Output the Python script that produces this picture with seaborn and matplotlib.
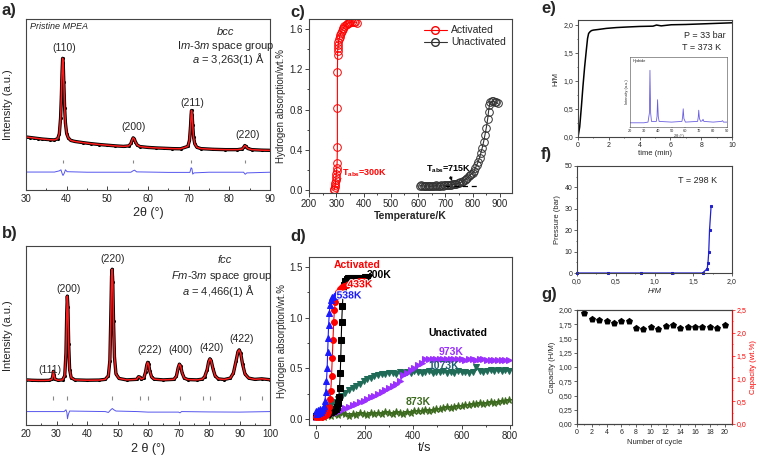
import matplotlib
matplotlib.use("Agg")
import numpy as np
import pandas as pd
import matplotlib.pyplot as plt
import seaborn as sns
from matplotlib.ticker import FuncFormatter, MultipleLocator
from matplotlib.lines import Line2D
import matplotlib.patheffects as pe

# ---------------- data ----------------
# (a) bcc XRD pattern (2theta, intensity in axis units)
a_tt = [30.0, 31.0, 32.0, 33.0, 34.0, 35.0, 36.0, 37.0, 37.8, 38.2, 38.5, 38.7, 38.85, 39.0, 39.15, 39.3,
        39.5, 39.7, 40.0, 40.4, 41.0, 42.0, 44.0, 46.0, 48.0, 50.0, 52.0, 54.0, 55.3, 55.8, 56.1, 56.35,
        56.6, 56.9, 57.3, 58.0, 60.0, 62.0, 64.0, 66.0, 68.0, 69.8, 70.2, 70.45, 70.6, 70.7, 70.85, 71.0,
        71.2, 71.5, 72.0, 73.0, 76.0, 79.0, 82.0, 83.2, 83.6, 83.8, 84.1, 84.5, 85.5, 88.0, 90.0]
a_obs = [0.310, 0.307, 0.304, 0.301, 0.298, 0.296, 0.294, 0.293, 0.300, 0.33, 0.42, 0.55, 0.68, 0.77, 0.74, 0.63,
         0.48, 0.39, 0.33, 0.305, 0.290, 0.284, 0.277, 0.271, 0.266, 0.262, 0.258, 0.255, 0.258, 0.272, 0.292, 0.305,
         0.300, 0.282, 0.264, 0.254, 0.249, 0.246, 0.244, 0.242, 0.241, 0.255, 0.29, 0.37, 0.44, 0.465, 0.44, 0.38,
         0.31, 0.27, 0.25, 0.242, 0.238, 0.236, 0.236, 0.240, 0.252, 0.260, 0.255, 0.243, 0.236, 0.233, 0.232]
a_diff_tt = [30, 37, 38.2, 38.6, 38.9, 39.1, 39.4, 39.7, 40.1, 45, 55.8, 56.3, 56.7, 57.2, 65, 70.3, 70.6, 70.8,
             71.0, 71.3, 75, 83.5, 83.9, 84.3, 90]
a_diff = [0.105, 0.105, 0.112, 0.118, 0.095, 0.085, 0.098, 0.118, 0.107, 0.104, 0.104, 0.112, 0.116, 0.106, 0.103,
          0.103, 0.13, 0.125, 0.093, 0.100, 0.104, 0.104, 0.092, 0.100, 0.104]
a_bragg = [39.0, 56.35, 70.66, 83.78]
a_hkl = ["(110)", "(200)", "(211)", "(220)"]
a_hkl_x = [39.3, 56.5, 70.9, 84.5]
a_hkl_y = [0.83, 0.37, 0.51, 0.32]

# (b) fcc XRD pattern
b_tt = [20.0, 22.0, 24.0, 26.0, 27.5, 28.5, 28.8, 29.0, 29.2, 29.5, 30.5, 32.0, 32.7, 33.1, 33.35, 33.55, 33.75,
        34.0, 34.3, 34.8, 36.0, 40.0, 44.0, 46.0, 47.0, 47.5, 47.8, 48.05, 48.25, 48.45, 48.7, 49.0, 49.5, 50.5,
        53.0, 56.3, 56.9, 57.3, 57.8, 58.6, 59.2, 59.6, 59.9, 60.2, 60.6, 61.2, 62.0, 65.0, 68.5, 69.3, 69.9, 70.3,
        70.7, 71.2, 71.9, 73.0, 76.0, 77.8, 78.6, 79.4, 79.9, 80.3, 80.7, 81.3, 82.0, 83.0, 85.0, 87.0, 88.0, 88.9,
        89.5, 89.9, 90.4, 91.0, 91.8, 93.0, 95.0, 97.3, 100.0]
b_obs = [0.252, 0.250, 0.249, 0.249, 0.250, 0.255, 0.275, 0.300, 0.278, 0.256, 0.250, 0.252, 0.275, 0.40, 0.62, 0.72, 0.66,
         0.45, 0.31, 0.265, 0.252, 0.250, 0.251, 0.255, 0.275, 0.36, 0.60, 0.83, 0.87, 0.80, 0.58, 0.38, 0.285, 0.260,
         0.252, 0.255, 0.270, 0.268, 0.256, 0.262, 0.295, 0.335, 0.350, 0.340, 0.300, 0.268, 0.256, 0.252, 0.255, 0.272,
         0.320, 0.340, 0.330, 0.290, 0.262, 0.254, 0.252, 0.256, 0.270, 0.310, 0.355, 0.370, 0.360, 0.315, 0.275, 0.258,
         0.254, 0.262, 0.290, 0.360, 0.410, 0.420, 0.400, 0.340, 0.285, 0.262, 0.255, 0.258, 0.253]
b_diff_tt = [20, 32.5, 33.1, 33.4, 33.6, 33.9, 34.3, 46, 47, 47.8, 48.3, 48.8, 49.5, 56.5, 60, 70, 70.5, 71, 80, 90, 100]
b_diff = [0.075, 0.075, 0.085, 0.07, 0.035, 0.06, 0.078, 0.075, 0.07, 0.085, 0.092, 0.085, 0.078, 0.075, 0.072,
          0.072, 0.068, 0.075, 0.073, 0.072, 0.075]
b_bragg = [29.0, 33.6, 48.2, 57.3, 60.0, 70.5, 78.0, 80.4, 90.0, 97.3]
b_hkl = ["(111)", "(200)", "(220)", "(222)", "(400)", "(420)", "(422)"]
b_hkl_x = [27.8, 33.8, 48.4, 60.6, 70.8, 80.8, 90.6]
b_hkl_y = [0.31, 0.76, 0.93, 0.42, 0.42, 0.43, 0.48]

# (c) temperature-programmed absorption
c_act_T = [291, 293, 295, 296, 297, 298, 299, 300, 301, 302, 303, 304, 304, 304, 305, 305, 306, 307, 308, 310,
           312, 314, 317, 320, 323, 326, 330, 334, 338, 342, 347, 352, 358, 364, 370, 376]
c_act_w = [0.0, 0.01, 0.03, 0.05, 0.07, 0.10, 0.13, 0.16, 0.19, 0.22, 0.27, 0.43, 0.82, 1.17, 1.34, 1.38, 1.41,
           1.44, 1.47, 1.50, 1.52, 1.54, 1.56, 1.58, 1.60, 1.61, 1.63, 1.64, 1.65, 1.66, 1.66, 1.67, 1.67, 1.67,
           1.67, 1.66]
c_un_T = [605, 610, 615, 620, 625, 630, 635, 640, 645, 650, 655, 660, 665, 670, 675, 680, 685, 690, 695, 700,
          705, 710, 715, 720, 725, 730, 735, 740, 745, 750, 755, 760, 765, 770, 775, 780, 785, 790, 795, 800,
          805, 810, 815, 820, 825, 830, 835, 840, 845, 850, 855, 858, 861, 865, 870, 875, 880, 886, 892]
c_un_w = [0.04, 0.045, 0.04, 0.04, 0.035, 0.04, 0.04, 0.04, 0.035, 0.04, 0.04, 0.04, 0.045, 0.04, 0.04, 0.04,
          0.045, 0.04, 0.045, 0.045, 0.045, 0.05, 0.05, 0.05, 0.055, 0.055, 0.06, 0.06, 0.065, 0.07, 0.075, 0.08,
          0.09, 0.10, 0.11, 0.12, 0.135, 0.15, 0.16, 0.17, 0.19, 0.22, 0.25, 0.28, 0.32, 0.37, 0.42, 0.48, 0.55,
          0.62, 0.71, 0.78, 0.84, 0.87, 0.88, 0.88, 0.875, 0.87, 0.86]

# (d) isothermal kinetics
d_300_t = [0, 5, 10, 15, 20, 25, 30, 35, 40, 45, 50, 55, 60, 65, 70, 75, 80, 85, 90, 93, 96, 99, 101, 103, 105,
           108, 111, 115, 120, 126, 133, 140, 150, 160, 170, 180, 190, 200, 210]
d_300_w = [0.03, 0.04, 0.03, 0.04, 0.05, 0.04, 0.05, 0.05, 0.06, 0.05, 0.06, 0.07, 0.07, 0.08, 0.08, 0.09, 0.10,
           0.12, 0.16, 0.22, 0.31, 0.45, 0.60, 0.78, 0.96, 1.12, 1.25, 1.32, 1.36, 1.38, 1.39, 1.39, 1.39, 1.39,
           1.39, 1.395, 1.39, 1.40, 1.40]
d_433_t = [0, 5, 10, 15, 20, 25, 30, 35, 40, 45, 50, 54, 57, 60, 63, 66, 69, 72, 75, 79, 84, 90, 97, 105, 115,
           125, 135, 145, 155, 165, 175, 185, 195]
d_433_w = [0.02, 0.03, 0.02, 0.03, 0.03, 0.02, 0.03, 0.04, 0.04, 0.05, 0.07, 0.12, 0.20, 0.28, 0.42, 0.60, 0.78,
           0.96, 1.08, 1.16, 1.21, 1.25, 1.28, 1.30, 1.31, 1.32, 1.33, 1.34, 1.35, 1.35, 1.36, 1.36, 1.36]
d_538_t = [0, 4, 8, 12, 16, 20, 24, 28, 32, 36, 39, 42, 45, 47, 49, 51, 54, 57, 61, 66, 72, 78, 85, 92, 100]
d_538_w = [0.08, 0.05, 0.09, 0.06, 0.10, 0.07, 0.09, 0.11, 0.13, 0.18, 0.27, 0.37, 0.50, 0.66, 0.80, 0.93, 1.05,
           1.13, 1.18, 1.20, 1.21, 1.22, 1.22, 1.22, 1.22]
d_un_t = [0, 15, 30, 45, 60, 75, 90, 105, 120, 135, 150, 165, 180, 195, 210, 225, 240, 255, 270, 285, 300, 315,
          330, 345, 360, 375, 390, 405, 420, 435, 450, 465, 480, 495, 510, 525, 540, 555, 570, 585, 600, 615, 630,
          645, 660, 675, 690, 705, 720, 735, 750, 765, 780, 795]
d_973_w = [0.02, 0.03, 0.03, 0.04, 0.05, 0.06, 0.07, 0.09, 0.11, 0.12, 0.14, 0.15, 0.17, 0.18, 0.20, 0.22, 0.23,
           0.25, 0.27, 0.29, 0.31, 0.33, 0.35, 0.37, 0.43, 0.45, 0.48, 0.50, 0.53, 0.55, 0.59, 0.59, 0.59, 0.59,
           0.59, 0.59, 0.59, 0.59, 0.59, 0.59, 0.59, 0.585, 0.59, 0.59, 0.585, 0.59, 0.59, 0.585, 0.585, 0.585,
           0.585, 0.58, 0.585, 0.58]
d_1073_w = [0.03, 0.05, 0.08, 0.11, 0.14, 0.17, 0.20, 0.23, 0.26, 0.285, 0.31, 0.33, 0.35, 0.37, 0.39, 0.405,
            0.42, 0.43, 0.44, 0.445, 0.45, 0.455, 0.44, 0.46, 0.45, 0.46, 0.45, 0.47, 0.46, 0.45, 0.46, 0.47,
            0.45, 0.46, 0.46, 0.47, 0.45, 0.46, 0.45, 0.47, 0.46, 0.46, 0.45, 0.46, 0.51, 0.47, 0.46, 0.47, 0.48,
            0.47, 0.48, 0.47, 0.48, 0.47]
d_873_w = [0.02, 0.03, 0.02, 0.04, 0.03, 0.05, 0.04, 0.06, 0.05, 0.03, 0.05, 0.04, 0.06, 0.05, 0.04, 0.06, 0.05,
           0.06, 0.05, 0.07, 0.06, 0.05, 0.07, 0.06, 0.05, 0.07, 0.06, 0.08, 0.08, 0.08, 0.09, 0.08, 0.09, 0.10,
           0.10, 0.11, 0.12, 0.11, 0.12, 0.13, 0.13, 0.14, 0.14, 0.15, 0.15, 0.16, 0.15, 0.16, 0.17, 0.16, 0.17,
           0.18, 0.18, 0.19]

# (e) absorption kinetics at 373 K
e_t = [0, 0.11, 0.22, 0.32, 0.43, 0.54, 0.62, 0.69, 0.78, 0.87, 1.0, 1.3, 1.84, 2.5, 3.2, 4.0, 4.87, 5.1, 5.4,
       6.06, 7.0, 8.0, 9.0, 10.0]
e_hm = [0, 0.18, 0.54, 0.90, 1.25, 1.55, 1.76, 1.85, 1.88, 1.90, 1.91, 1.92, 1.94, 1.955, 1.965, 1.975, 1.98,
        2.0, 1.985, 2.005, 2.01, 2.02, 2.03, 2.04]
ins_tt = [20, 30, 33, 34, 34.4, 34.9, 35.5, 39, 39.5, 39.9, 40.4, 41, 50, 57.5, 58, 58.4, 58.9, 60, 68.8, 69.3,
          69.6, 70.1, 71, 72.2, 72.7, 73.3, 80, 86, 86.7, 87.5, 90]
ins_I = [0.06, 0.06, 0.07, 0.2, 0.81, 0.2, 0.08, 0.08, 0.15, 0.39, 0.15, 0.08, 0.07, 0.08, 0.15, 0.26, 0.12, 0.07,
         0.08, 0.15, 0.24, 0.12, 0.08, 0.09, 0.11, 0.08, 0.07, 0.08, 0.09, 0.07, 0.07]

# (f) PCI at 298 K
f_hm = [0.0, 0.40, 0.83, 1.22, 1.62, 1.68, 1.69, 1.70, 1.71, 1.73]
f_p = [0.0, 0.0, 0.0, 0.0, 0.0, 2.0, 4.8, 9.8, 20.0, 31.2]

# (g) cycling
g_cycle = list(range(1, 21))
g_cap = [1.95, 1.85, 1.83, 1.81, 1.78, 1.81, 1.80, 1.69, 1.67, 1.70, 1.67, 1.72, 1.73, 1.69, 1.71, 1.71, 1.71,
         1.70, 1.69, 1.73]

# ---------------- style ----------------
sns.set_theme(style="ticks")
plt.rcParams["font.family"] = ["Liberation Sans", "DejaVu Sans"]
plt.rcParams["mathtext.fontset"] = "custom"
plt.rcParams["mathtext.rm"] = "Liberation Sans"
plt.rcParams["mathtext.it"] = "Liberation Sans:italic"
plt.rcParams["mathtext.bf"] = "Liberation Sans:bold"
plt.rcParams["axes.linewidth"] = 0.8
plt.rcParams["axes.edgecolor"] = "#444444"

W, H = 760, 459
fig = plt.figure(figsize=(7.6, 4.59), dpi=100)


def rect(l, t, r, b):
    return [l / W, 1 - b / H, (r - l) / W, (b - t) / H]


def comma(fmt):
    return FuncFormatter(lambda v, p: fmt.format(v).replace(".", ","))


def line(ax, x, y, **kw):
    sns.lineplot(x=x, y=y, ax=ax, estimator=None, sort=False, legend=False, **kw)


# ---------------- (a) ----------------
axa = fig.add_axes(rect(26, 19, 270, 190))
line(axa, a_tt, a_obs, color="black", linewidth=2.4)
sns.scatterplot(x=a_tt, y=a_obs, ax=axa, color="black", s=5, linewidth=0, legend=False)
line(axa, a_tt, a_obs, color="#ff1a1a", linewidth=1.1)
line(axa, a_diff_tt, a_diff, color="#5555ee", linewidth=0.7)
axa.vlines(a_bragg, 0.158, 0.178, color="#888888", linewidth=0.8)
for s, x, y in zip(a_hkl, a_hkl_x, a_hkl_y):
    axa.text(x, y, s, ha="center", va="center", fontsize=7.5)
axa.set_xlim(30, 90)
axa.set_ylim(0, 1)
axa.set_yticks([])
axa.xaxis.set_major_locator(MultipleLocator(10))
axa.xaxis.set_minor_locator(MultipleLocator(5))
axa.tick_params(axis="x", which="both", direction="in", labelsize=7, length=3, width=0.6, pad=3)
axa.tick_params(axis="x", which="minor", length=1.5)
axa.set_xlabel("2θ (°)", fontsize=9, labelpad=2)
axa.set_ylabel("Intensity (a.u.)", fontsize=8)
axa.yaxis.set_label_coords(-0.055, 0.5)
axa.text(0.015, 0.955, "Pristine MPEA", transform=axa.transAxes, fontsize=6.5, style="italic", va="center")
axa.text(0.82, 0.925, "bcc", transform=axa.transAxes, fontsize=8, style="italic", ha="center", va="center")
axa.text(0.82, 0.845, r"I$m$-3$m$ space group", transform=axa.transAxes, fontsize=8, ha="center", va="center")
axa.text(0.83, 0.765, r"$a$ = 3,263(1) Å", transform=axa.transAxes, fontsize=8, ha="center", va="center")

# ---------------- (b) ----------------
axb = fig.add_axes(rect(26, 246, 270, 425))
line(axb, b_tt, b_obs, color="black", linewidth=2.4)
sns.scatterplot(x=b_tt, y=b_obs, ax=axb, color="black", s=5, linewidth=0, legend=False)
line(axb, b_tt, b_obs, color="#ff1a1a", linewidth=1.1)
line(axb, b_diff_tt, b_diff, color="#5555ee", linewidth=0.7)
axb.vlines(b_bragg, 0.14, 0.16, color="#888888", linewidth=0.8)
for s, x, y in zip(b_hkl, b_hkl_x, b_hkl_y):
    axb.text(x, y, s, ha="center", va="center", fontsize=7.5)
axb.set_xlim(20, 100)
axb.set_ylim(0, 1)
axb.set_yticks([])
axb.xaxis.set_major_locator(MultipleLocator(10))
axb.xaxis.set_minor_locator(MultipleLocator(5))
axb.tick_params(axis="x", which="both", direction="in", labelsize=7, length=3, width=0.6, pad=3)
axb.tick_params(axis="x", which="minor", length=1.5)
axb.set_xlabel("2 θ (°)", fontsize=9, labelpad=3)
axb.set_ylabel("Intensity (a.u.)", fontsize=8)
axb.yaxis.set_label_coords(-0.055, 0.5)
axb.text(0.815, 0.92, "fcc", transform=axb.transAxes, fontsize=8, style="italic", ha="center", va="center")
axb.text(0.80, 0.835, r"$Fm$-$3m$ space group", transform=axb.transAxes, fontsize=8, ha="center", va="center")
axb.text(0.79, 0.75, r"$a$ = 4,466(1) Å", transform=axb.transAxes, fontsize=8, ha="center", va="center")

# ---------------- (c) ----------------
axc = fig.add_axes(rect(309, 19, 512, 193))
line(axc, c_act_T, c_act_w, color="red", linewidth=0.8, marker="o", markersize=5.5,
     markerfacecolor="none", markeredgecolor="red", markeredgewidth=0.7)
line(axc, c_un_T, c_un_w, color="#333333", linewidth=0.8, marker="o", markersize=5.5,
     markerfacecolor="none", markeredgecolor="#333333", markeredgewidth=0.7)
axc.set_xlim(200, 944)
axc.set_ylim(-0.03, 1.70)
axc.xaxis.set_major_locator(MultipleLocator(100))
axc.xaxis.set_minor_locator(MultipleLocator(50))
axc.yaxis.set_major_locator(MultipleLocator(0.4))
axc.yaxis.set_minor_locator(MultipleLocator(0.2))
axc.yaxis.set_major_formatter(FuncFormatter(lambda v, p: f"{v:.1f}"))
axc.tick_params(which="both", direction="out", labelsize=7, length=3, width=0.6, pad=1.5)
axc.tick_params(which="minor", length=1.5)
axc.set_xlabel("Temperature/K", fontsize=7.5, fontweight="bold", labelpad=1)
axc.set_ylabel("Hydrogen absorption/wt.%", fontsize=7, labelpad=2)
axc.text(322, 0.17, r"T$_{\mathbf{abs}}$=300K", color="red", fontsize=6.5, fontweight="bold", va="center")
axc.annotate("", xy=(303, 0.04), xytext=(322, 0.14),
             arrowprops=dict(arrowstyle="-", color="red", lw=0.7))
axc.text(712, 0.21, r"T$_{\mathbf{abs}}$=715K", color="black", fontsize=6.5, fontweight="bold",
         ha="center", va="center")
axc.annotate("", xy=(728, 0.065), xytext=(714, 0.16),
             arrowprops=dict(arrowstyle="-|>", color="black", lw=0.6, mutation_scale=5))
axc.plot([700, 818], [0.035, 0.035], color="black", lw=0.9, ls=(0, (4, 3)))
hc = [Line2D([], [], color="red", lw=0.8, marker="o", markersize=5.5, markerfacecolor="none"),
      Line2D([], [], color="#333333", lw=0.8, marker="o", markersize=5.5, markerfacecolor="none")]
axc.legend(hc, ["Activated", "Unactivated"], loc="upper right", fontsize=7.5, frameon=False,
           handlelength=2.2, borderaxespad=0.2, labelspacing=0.2, handletextpad=0.4)

# ---------------- (d) ----------------
axd = fig.add_axes(rect(309, 257, 512, 425))
ms = 4.2
line(axd, d_un_t, d_873_w, color="#3d6b1f", linewidth=0.8, marker="*", markersize=ms + 1,
     markerfacecolor="#3d6b1f", markeredgecolor="#3d6b1f")
line(axd, d_un_t, d_1073_w, color="#1f6b58", linewidth=0.8, marker="v", markersize=ms,
     markerfacecolor="#1f6b58", markeredgecolor="#1f6b58")
line(axd, d_un_t, d_973_w, color="#9b30ff", linewidth=0.8, marker=">", markersize=ms,
     markerfacecolor="#9b30ff", markeredgecolor="#9b30ff")
line(axd, d_300_t, d_300_w, color="black", linewidth=0.8, marker="s", markersize=ms - 0.4,
     markerfacecolor="black", markeredgecolor="black")
line(axd, d_433_t, d_433_w, color="red", linewidth=0.8, marker="o", markersize=ms,
     markerfacecolor="red", markeredgecolor="red")
line(axd, d_538_t, d_538_w, color="#1a1aff", linewidth=0.8, marker="^", markersize=ms,
     markerfacecolor="#1a1aff", markeredgecolor="#1a1aff")
axd.set_xlim(-30, 808)
axd.set_ylim(-0.06, 1.6)
axd.xaxis.set_major_locator(MultipleLocator(200))
axd.xaxis.set_minor_locator(MultipleLocator(100))
axd.yaxis.set_major_locator(MultipleLocator(0.5))
axd.yaxis.set_minor_locator(MultipleLocator(0.25))
axd.yaxis.set_major_formatter(FuncFormatter(lambda v, p: f"{v:.1f}"))
axd.tick_params(which="both", direction="out", labelsize=7, length=3, width=0.6, pad=1.5)
axd.tick_params(which="minor", length=1.5)
axd.set_xlabel("t/s", fontsize=9, labelpad=0)
axd.xaxis.set_label_coords(0.57, -0.1)
axd.set_ylabel("Hydrogen absorption/wt.%", fontsize=7, labelpad=2)
stroke = [pe.withStroke(linewidth=1.5, foreground="white")]
axd.text(170, 1.52, "Activated", color="red", fontsize=7.5, fontweight="bold", ha="center", va="center")
axd.text(258, 1.42, "300K", color="black", fontsize=7.5, fontweight="bold", ha="center", va="center")
axd.text(180, 1.33, "433K", color="red", fontsize=7.5, fontweight="bold", ha="center", va="center",
         path_effects=stroke)
axd.text(135, 1.22, "538K", color="#1a1aff", fontsize=7.5, fontweight="bold", ha="center", va="center",
         path_effects=stroke)
axd.text(585, 0.85, "Unactivated", color="black", fontsize=7.5, fontweight="bold", ha="center", va="center")
axd.text(555, 0.66, "973K", color="#9b30ff", fontsize=7.5, fontweight="bold", ha="center", va="center")
axd.text(528, 0.52, "1073K", color="#1f5f70", fontsize=7.5, fontweight="bold", ha="center", va="center")
axd.text(420, 0.17, "873K", color="#3d6b1f", fontsize=7.5, fontweight="bold", ha="center", va="center")

# ---------------- (e) ----------------
axe = fig.add_axes(rect(578, 20, 732, 137))
line(axe, e_t, e_hm, color="black", linewidth=1.1)
axe.set_xlim(0, 10)
axe.set_ylim(0, 2.09)
axe.xaxis.set_major_locator(MultipleLocator(2))
axe.xaxis.set_minor_locator(MultipleLocator(1))
axe.yaxis.set_major_locator(MultipleLocator(0.5))
axe.yaxis.set_minor_locator(MultipleLocator(0.25))
axe.yaxis.set_major_formatter(comma("{:.1f}"))
axe.tick_params(which="both", direction="out", labelsize=5, length=2, width=0.5, pad=1.5)
axe.tick_params(which="minor", length=1)
axe.set_xlabel("time (min)", fontsize=5.5, labelpad=1)
axe.set_ylabel("H/M", fontsize=5.5, labelpad=3)
axe.text(9.6, 1.82, "P = 33 bar", fontsize=6.5, ha="right", va="center")
axe.text(6.75, 1.60, "T = 373 K", fontsize=6.5, ha="left", va="center")

axi = fig.add_axes(rect(630, 57, 727, 127))
line(axi, ins_tt, ins_I, color="#6a5fe0", linewidth=0.6)
axi.set_xlim(20, 90)
axi.set_ylim(0, 1)
axi.set_yticks([])
axi.xaxis.set_major_locator(MultipleLocator(10))
axi.tick_params(axis="x", direction="out", labelsize=2.8, length=1, width=0.3, pad=0.5)
for sp in axi.spines.values():
    sp.set_linewidth(0.4)
axi.set_xlabel("2θ (°)", fontsize=2.8, labelpad=0.5)
axi.set_ylabel("Intensity (a.u.)", fontsize=2.8, labelpad=1)
axi.text(0.03, 0.94, "Hydride", transform=axi.transAxes, fontsize=2.8, va="center")

# ---------------- (f) ----------------
axf = fig.add_axes(rect(577, 166, 732, 273))
line(axf, f_hm, f_p, color="#2020d0", linewidth=0.9, marker="s", markersize=2,
     markerfacecolor="#2020d0", markeredgecolor="#2020d0", clip_on=False)
axf.set_xlim(0, 2)
axf.set_ylim(0, 50)
axf.xaxis.set_major_locator(MultipleLocator(0.5))
axf.xaxis.set_minor_locator(MultipleLocator(0.25))
axf.yaxis.set_major_locator(MultipleLocator(10))
axf.yaxis.set_minor_locator(MultipleLocator(5))
axf.xaxis.set_major_formatter(comma("{:.1f}"))
axf.tick_params(which="both", direction="out", labelsize=5, length=2, width=0.5, pad=1.5)
axf.tick_params(which="minor", length=1)
axf.set_xlabel("H/M", fontsize=5.5, style="italic", labelpad=2)
axf.set_ylabel("Pressure (bar)", fontsize=5.5, labelpad=2)
axf.text(1.55, 43, "T = 298 K", fontsize=6.5, ha="center", va="center")

# ---------------- (g) ----------------
axg = fig.add_axes(rect(577, 310, 732, 424))
sns.scatterplot(x=g_cycle, y=g_cap, ax=axg, color="black", marker="p", s=28, linewidth=0, legend=False)
axg.set_xlim(0, 21)
axg.set_ylim(0, 2)
axg.xaxis.set_major_locator(MultipleLocator(2))
axg.xaxis.set_minor_locator(MultipleLocator(1))
axg.yaxis.set_major_locator(MultipleLocator(0.25))
axg.yaxis.set_major_formatter(comma("{:.2f}"))
axg.tick_params(which="both", direction="out", labelsize=5, length=2, width=0.5, pad=1.5)
axg.tick_params(which="minor", length=1)
axg.set_xlabel("Number of cycle", fontsize=5.5, labelpad=2)
axg.set_ylabel("Capacity (H/M)", fontsize=5.5, labelpad=2)
axg2 = axg.twinx()
axg2.set_ylim(0, 2.5)
axg2.yaxis.set_major_locator(MultipleLocator(0.5))
axg2.yaxis.set_minor_locator(MultipleLocator(0.25))
axg2.yaxis.set_major_formatter(comma("{:.1f}"))
axg2.tick_params(which="both", direction="out", labelsize=5, length=2, width=0.5, pad=1.5,
                 colors="red")
axg2.tick_params(which="minor", length=1)
axg2.spines["right"].set_color("red")
axg2.set_ylabel("Capacity (wt.%)", fontsize=5.5, color="red", labelpad=2)

# ---------------- panel letters ----------------
for s, x, y in [("a)", 2, 11), ("b)", 2, 234), ("c)", 290, 12), ("d)", 290, 236),
                ("e)", 541, 9), ("f)", 541, 154), ("g)", 541, 294)]:
    fig.text(x / W, 1 - y / H, s, fontsize=12, fontweight="bold", ha="left", va="center")

fig.savefig("out.png", dpi=100)
